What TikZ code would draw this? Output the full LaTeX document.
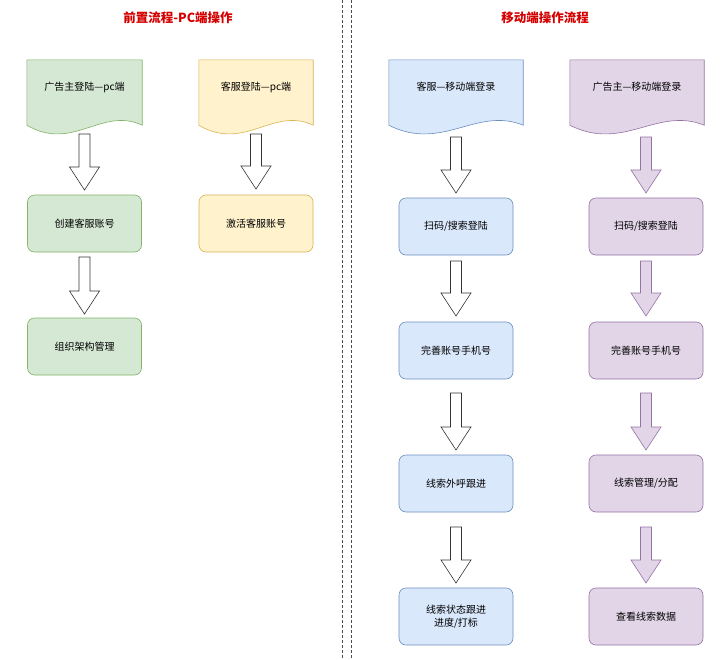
\documentclass[tikz,border=0pt]{standalone}
\usepackage{fontspec}
\setmainfont{Noto Sans CJK SC}
\usetikzlibrary{calc}
\definecolor{gF}{HTML}{D5E8D4}\definecolor{gS}{HTML}{82B366}
\definecolor{yF}{HTML}{FFF2CC}\definecolor{yS}{HTML}{D6B656}
\definecolor{bF}{HTML}{DAE8FC}\definecolor{bS}{HTML}{6C8EBF}
\definecolor{pF}{HTML}{E1D5E7}\definecolor{pS}{HTML}{9673A6}
\definecolor{tR}{HTML}{D40000}
\begin{document}
\begin{tikzpicture}[x=1pt,y=-1pt,
 box/.style={rounded corners=7pt,draw=#1S,fill=#1F,minimum width=114pt,minimum height=57pt,font=\fontsize{10}{13}\selectfont,align=center,line width=0.6pt},
 doctxt/.style={minimum width=#1,minimum height=54pt,font=\fontsize{10}{13}\selectfont,inner sep=0pt},
 title/.style={text=tR,font=\fontsize{12.5}{15}\selectfont\bfseries},
 hol/.style={draw=black!80,fill=white,line width=0.6pt},
 pur/.style={draw=pS,fill=pF,line width=0.6pt}]
\useasboundingbox (0,0) rectangle (723,659);
\fill[white] (0,0) rectangle (723,659);
\draw[densely dashed,black!70,line width=0.6pt] (342,0) -- (342,659) (351,0) -- (351,659);
\node[title] (t1) at (178,18) {前置流程-PC端操作};
\node[title] (t2) at (545,18) {移动端操作流程};
% document shapes
\newcommand\docshape[2]{% node, colour prefix
 \draw[draw=#2S,fill=#2F,line width=0.6pt]
  let \p1=(#1.north west),\p2=(#1.south east),\n1={\x2-\x1} in
  (\x1,\y1) -- (\x2,\y1) -- (\x2,\y2-11)
  .. controls (\x2-0.35*\n1,\y2+8) and (\x1+0.4*\n1,\y2-38) .. (\x1,\y2-11) -- cycle;}
\node[doctxt=115pt] (d1) at (84.5,87) {};
\node[doctxt=114pt] (d2) at (256,87) {};
\node[doctxt=134pt] (d3) at (456,87) {};
\node[doctxt=134pt] (d4) at (637,87) {};
\docshape{d1}{g}\docshape{d2}{y}\docshape{d3}{b}\docshape{d4}{p}
\node[doctxt=115pt] at (d1) {广告主登陆—pc端};
\node[doctxt=114pt] at (d2) {客服登陆—pc端};
\node[doctxt=134pt] at (d3) {客服—移动端登录};
\node[doctxt=134pt] at (d4) {广告主—移动端登录};
% boxes
\node[box=g] (g1) at (84.5,223.5) {创建客服账号};
\node[box=g] (g2) at (84.5,346.5) {组织架构管理};
\node[box=y] (y1) at (256,223.5) {激活客服账号};
\node[box=b] (b1) at (456,226.5) {扫码/搜索登陆};
\node[box=b] (b2) at (456,350.5) {完善账号手机号};
\node[box=b] (b3) at (456,483.5) {线索外呼跟进};
\node[box=b] (b4) at (456,616.5) {线索状态跟进\\进度/打标};
\node[box=p] (p1) at (646,226.5) {扫码/搜索登陆};
\node[box=p] (p2) at (646,350.5) {完善账号手机号};
\node[box=p] (p3) at (646,483.5) {线索管理/分配};
\node[box=p] (p4) at (646,616.5) {查看线索数据};
% block arrows: style, x, ytop, ybottom
\newcommand\barrow[4]{\draw[#1] (#2-5.5,#3) -- (#2+5.5,#3) -- (#2+5.5,#4-23) -- (#2+15,#4-23) -- (#2,#4) -- (#2-15,#4-23) -- (#2-5.5,#4-23) -- (#2-5.5,#3) -- cycle;}
\barrow{hol}{84.5}{134}{190}
\barrow{hol}{84.5}{257}{314}
\barrow{hol}{256}{134}{189}
\barrow{hol}{456}{137}{193}
\barrow{hol}{456}{261}{316}
\barrow{hol}{456}{393}{450}
\barrow{hol}{456}{527}{583}
\barrow{pur}{646}{137}{193}
\barrow{pur}{646}{261}{316}
\barrow{pur}{646}{393}{450}
\barrow{pur}{646}{527}{583}
\end{tikzpicture}
\end{document}
